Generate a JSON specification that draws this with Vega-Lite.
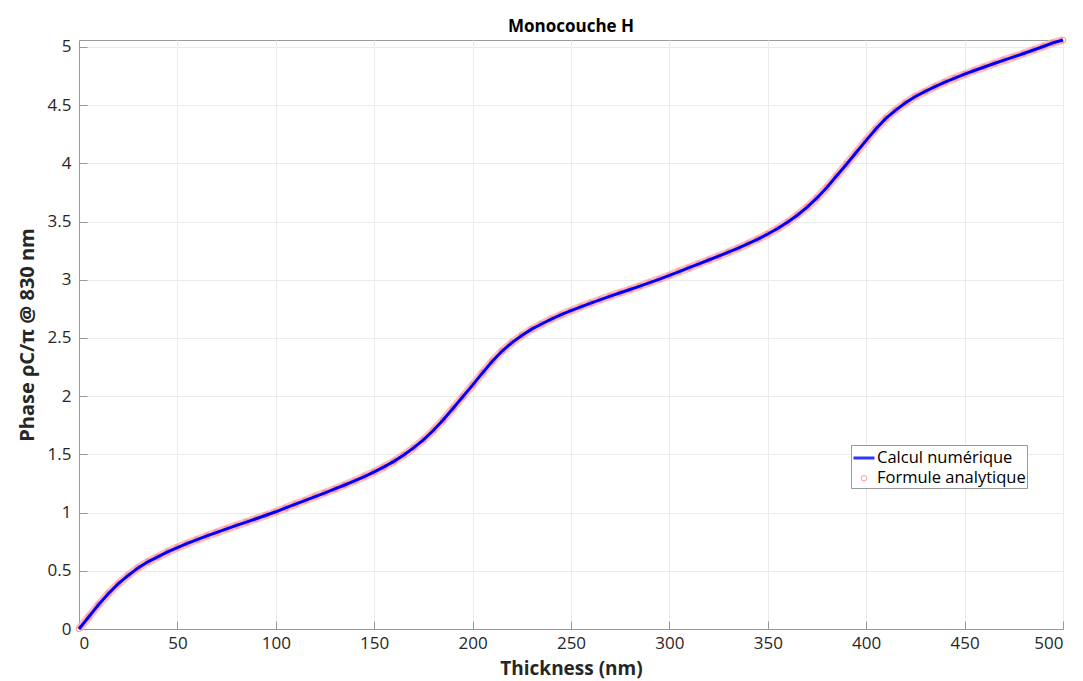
{
  "$schema": "https://vega.github.io/schema/vega-lite/v6.json",
  "width": 984,
  "height": 589,
  "autosize": {"type": "none"},
  "padding": {"left": 79, "top": 40, "right": 20, "bottom": 52},
  "background": "white",
  "title": {"text": "Monocouche H", "font": "Open Sans", "fontSize": 17, "fontWeight": "bold", "color": "#000000", "offset": -12, "anchor": "middle"},
  "config": {
    "view": {"stroke": "#999999", "strokeWidth": 1},
    "axis": {"labelFont": "Open Sans", "labelFontSize": 17, "labelColor": "#262626", "titleFont": "Open Sans", "titleFontWeight": "bold", "titleColor": "#262626", "domainColor": "#999999", "tickColor": "#999999", "gridColor": "#ebebeb", "gridWidth": 1},
    "legend": {"strokeColor": "#999999", "fillColor": "white", "padding": 1,
               "labelFont": "Open Sans", "labelFontSize": 16.5, "labelColor": "#000000",
               "rowPadding": 3, "labelOffset": 1}
  },
  "data": {"values": [
    {"t": 0, "y": 0.000}, {"t": 5, "y": 0.105}, {"t": 10, "y": 0.210}, {"t": 15, "y": 0.305}, {"t": 20, "y": 0.390},
    {"t": 25, "y": 0.460}, {"t": 30, "y": 0.525}, {"t": 35, "y": 0.577}, {"t": 40, "y": 0.620}, {"t": 45, "y": 0.662},
    {"t": 50, "y": 0.700}, {"t": 55, "y": 0.735}, {"t": 60, "y": 0.768}, {"t": 65, "y": 0.800}, {"t": 70, "y": 0.830},
    {"t": 75, "y": 0.860}, {"t": 80, "y": 0.890}, {"t": 85, "y": 0.918}, {"t": 90, "y": 0.947}, {"t": 95, "y": 0.977},
    {"t": 100, "y": 1.007}, {"t": 105, "y": 1.040}, {"t": 110, "y": 1.073}, {"t": 115, "y": 1.105}, {"t": 120, "y": 1.138},
    {"t": 125, "y": 1.170}, {"t": 130, "y": 1.203}, {"t": 135, "y": 1.237}, {"t": 140, "y": 1.272}, {"t": 145, "y": 1.310},
    {"t": 150, "y": 1.350}, {"t": 155, "y": 1.393}, {"t": 160, "y": 1.440}, {"t": 165, "y": 1.495}, {"t": 170, "y": 1.556},
    {"t": 175, "y": 1.625}, {"t": 180, "y": 1.705}, {"t": 185, "y": 1.795}, {"t": 190, "y": 1.895}, {"t": 195, "y": 1.995},
    {"t": 200, "y": 2.095}, {"t": 205, "y": 2.200}, {"t": 210, "y": 2.300}, {"t": 215, "y": 2.388}, {"t": 220, "y": 2.460},
    {"t": 225, "y": 2.522}, {"t": 230, "y": 2.576}, {"t": 235, "y": 2.620}, {"t": 240, "y": 2.662}, {"t": 245, "y": 2.700},
    {"t": 250, "y": 2.735}, {"t": 255, "y": 2.768}, {"t": 260, "y": 2.800}, {"t": 265, "y": 2.830}, {"t": 270, "y": 2.860},
    {"t": 275, "y": 2.889}, {"t": 280, "y": 2.917}, {"t": 285, "y": 2.946}, {"t": 290, "y": 2.976}, {"t": 295, "y": 3.006},
    {"t": 300, "y": 3.038}, {"t": 305, "y": 3.071}, {"t": 310, "y": 3.104}, {"t": 315, "y": 3.137}, {"t": 320, "y": 3.170},
    {"t": 325, "y": 3.203}, {"t": 330, "y": 3.237}, {"t": 335, "y": 3.272}, {"t": 340, "y": 3.310}, {"t": 345, "y": 3.350},
    {"t": 350, "y": 3.393}, {"t": 355, "y": 3.440}, {"t": 360, "y": 3.494}, {"t": 365, "y": 3.555}, {"t": 370, "y": 3.624},
    {"t": 375, "y": 3.703}, {"t": 380, "y": 3.793}, {"t": 385, "y": 3.893}, {"t": 390, "y": 3.993}, {"t": 395, "y": 4.095},
    {"t": 400, "y": 4.198}, {"t": 405, "y": 4.298}, {"t": 410, "y": 4.386}, {"t": 415, "y": 4.458}, {"t": 420, "y": 4.520},
    {"t": 425, "y": 4.575}, {"t": 430, "y": 4.618}, {"t": 435, "y": 4.660}, {"t": 440, "y": 4.698}, {"t": 445, "y": 4.733},
    {"t": 450, "y": 4.766}, {"t": 455, "y": 4.798}, {"t": 460, "y": 4.828}, {"t": 465, "y": 4.858}, {"t": 470, "y": 4.887},
    {"t": 475, "y": 4.915}, {"t": 480, "y": 4.944}, {"t": 485, "y": 4.974}, {"t": 490, "y": 5.004}, {"t": 495, "y": 5.036},
    {"t": 500, "y": 5.060}
  ]},
  "layer": [
    {
      "mark": {"type": "line", "strokeWidth": 8, "opacity": 0.8, "color": "#ffaaaa", "clip": false},
      "encoding": {
        "x": {"field": "t", "type": "quantitative", "scale": {"domain": [0, 500], "nice": false, "zero": false},
              "axis": {"orient": "bottom", "values": [0, 50, 100, 150, 200, 250, 300, 350, 400, 450, 500], "title": "Thickness (nm)", "titleFontSize": 19, "titlePadding": 8, "tickSize": -8, "labelPadding": 14, "grid": true, "labelExpr": "'' + datum.value"}},
        "y": {"field": "y", "type": "quantitative", "scale": {"domain": [0, 5.06], "nice": false, "zero": false},
              "axis": {"orient": "left", "values": [0, 0.5, 1, 1.5, 2, 2.5, 3, 3.5, 4, 4.5, 5], "title": "Phase ρC/π @ 830 nm", "titleFontSize": 20, "titlePadding": 10, "tickSize": -8, "labelPadding": 16, "grid": true, "labelExpr": "'' + datum.value"}}
      }
    },
    {
      "mark": {"type": "point", "filled": false, "opacity": 0.8, "clip": false},
      "encoding": {
        "x": {"field": "t", "type": "quantitative"},
        "y": {"field": "y", "type": "quantitative"},
        "color": {"datum": "Formule analytique", "type": "nominal",
                  "scale": {"domain": ["Calcul numérique", "Formule analytique"], "range": ["#0000ff", "#ff8080"]},
                  "legend": {"title": null, "orient": "none", "legendX": 772, "legendY": 405}},
        "shape": {"datum": "Formule analytique", "type": "nominal",
                  "scale": {"domain": ["Calcul numérique", "Formule analytique"], "range": ["stroke", "circle"]},
                  "legend": {"title": null, "orient": "none", "legendX": 772, "legendY": 405}},
        "size": {"datum": "Formule analytique", "type": "nominal",
                 "scale": {"type": "ordinal", "domain": ["Calcul numérique", "Formule analytique"], "range": [440, 30]},
                 "legend": {"title": null, "orient": "none", "legendX": 772, "legendY": 405}},
        "strokeWidth": {"datum": "Formule analytique", "type": "nominal",
                 "scale": {"type": "ordinal", "domain": ["Calcul numérique", "Formule analytique"], "range": [3, 1]},
                 "legend": {"title": null, "orient": "none", "legendX": 772, "legendY": 405}}
      }
    },
    {
      "mark": {"type": "line", "strokeWidth": 3, "color": "#0000ff", "clip": false},
      "encoding": {
        "x": {"field": "t", "type": "quantitative"},
        "y": {"field": "y", "type": "quantitative"}
      }
    }
  ]
}
